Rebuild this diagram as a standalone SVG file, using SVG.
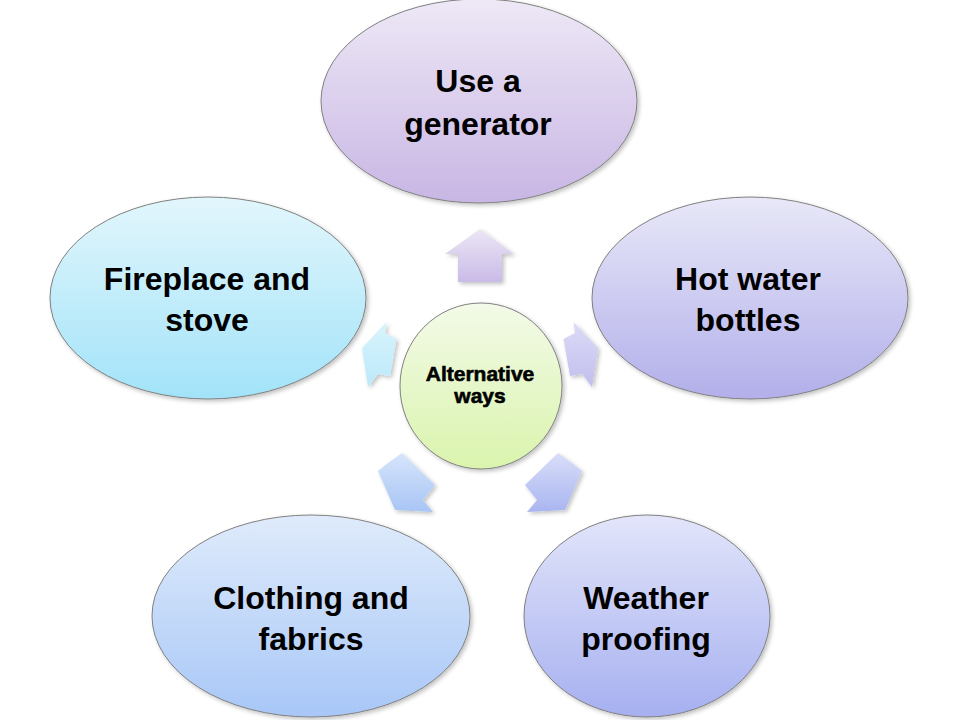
<svg xmlns="http://www.w3.org/2000/svg" width="960" height="720" viewBox="0 0 960 720">
<defs>
<linearGradient id="gTop" x1="0" y1="0" x2="0" y2="1"><stop offset="0" stop-color="#eee8f6"/><stop offset="1" stop-color="#c8b6e4"/></linearGradient>
<linearGradient id="gHot" x1="0" y1="0" x2="0" y2="1"><stop offset="0" stop-color="#e8e8f8"/><stop offset="1" stop-color="#b2afea"/></linearGradient>
<linearGradient id="gWea" x1="0" y1="0" x2="0" y2="1"><stop offset="0" stop-color="#e2e5fa"/><stop offset="1" stop-color="#a6b0f0"/></linearGradient>
<linearGradient id="gClo" x1="0" y1="0" x2="0" y2="1"><stop offset="0" stop-color="#dfebfb"/><stop offset="1" stop-color="#a8c7f7"/></linearGradient>
<linearGradient id="gFir" x1="0" y1="0" x2="0" y2="1"><stop offset="0" stop-color="#e2f6fc"/><stop offset="1" stop-color="#a2e3f9"/></linearGradient>
<linearGradient id="gCen" x1="0" y1="0" x2="0" y2="1"><stop offset="0" stop-color="#f3fae8"/><stop offset="1" stop-color="#daf4ad"/></linearGradient>
<linearGradient id="aUp" x1="0" y1="0" x2="0" y2="1"><stop offset="0" stop-color="#ece6f6"/><stop offset="1" stop-color="#cabbe7"/></linearGradient>
<linearGradient id="aL" x1="0" y1="0" x2="0" y2="1"><stop offset="0" stop-color="#d8f4fc"/><stop offset="1" stop-color="#bce9fa"/></linearGradient>
<linearGradient id="aR" x1="0" y1="0" x2="0" y2="1"><stop offset="0" stop-color="#dcdbf6"/><stop offset="1" stop-color="#c1beee"/></linearGradient>
<linearGradient id="aBL" x1="0" y1="0" x2="0" y2="1"><stop offset="0" stop-color="#d6e5fb"/><stop offset="1" stop-color="#a8c5f5"/></linearGradient>
<linearGradient id="aBR" x1="0" y1="0" x2="0" y2="1"><stop offset="0" stop-color="#d8def9"/><stop offset="1" stop-color="#a9b5f0"/></linearGradient>
<filter id="sh" x="-10%" y="-10%" width="125%" height="125%">
<feGaussianBlur in="SourceAlpha" stdDeviation="2"/>
<feOffset dx="2" dy="2" result="b"/>
<feComponentTransfer><feFuncA type="linear" slope="0.25"/></feComponentTransfer>
<feMerge><feMergeNode/><feMergeNode in="SourceGraphic"/></feMerge>
</filter>
</defs>
<style>
.node{stroke:#808080;stroke-width:1;filter:url(#sh)}
.arr{filter:url(#sh)}
.t{font-family:"Liberation Sans",Arial,sans-serif;font-weight:bold;font-size:32px;fill:#000;text-anchor:middle}
.c{font-family:"Liberation Sans",Arial,sans-serif;font-weight:bold;font-size:21px;fill:#000;text-anchor:middle;stroke:#000;stroke-width:0.6}
</style>
<rect width="960" height="720" fill="#ffffff"/>
<g id="connectors">
<polygon class="arr" fill="url(#aUp)" points="480,229 514,254 502,254 502,282 458,282 458,254 445,254"/>
<polygon class="arr" fill="url(#aL)" points="386.5,322 385,333 396.5,339 390,376 378,374 368,387 362,348"/>
<polygon class="arr" fill="url(#aR)" points="573.5,322 575,333 563.5,339 570,376 582,374 592,387 598,348"/>
<polygon class="arr" fill="url(#aBL)" points="395,510 378,471 388,463 402,453 435,485 423,500 433,512"/>
<polygon class="arr" fill="url(#aBR)" points="565,510 582,471 572,463 558,453 525,485 537,500 527,512"/>
</g>
<g id="node-top">
<ellipse class="node" cx="479" cy="101" rx="158" ry="102" fill="url(#gTop)"/>
<text class="t" x="478" y="92">Use a</text>
<text class="t" x="478" y="135">generator</text>
</g>
<g id="node-hot">
<ellipse class="node" cx="750" cy="298" rx="158" ry="101" fill="url(#gHot)"/>
<text class="t" x="748" y="290">Hot water</text>
<text class="t" x="748" y="331">bottles</text>
</g>
<g id="node-weather">
<ellipse class="node" cx="647" cy="616" rx="123" ry="101" fill="url(#gWea)"/>
<text class="t" x="646" y="609">Weather</text>
<text class="t" x="646" y="650">proofing</text>
</g>
<g id="node-clothing">
<ellipse class="node" cx="311" cy="616" rx="159" ry="101" fill="url(#gClo)"/>
<text class="t" x="311" y="609">Clothing and</text>
<text class="t" x="311" y="650">fabrics</text>
</g>
<g id="node-fireplace">
<ellipse class="node" cx="208" cy="298" rx="158" ry="101" fill="url(#gFir)"/>
<text class="t" x="207" y="290">Fireplace and</text>
<text class="t" x="207" y="331">stove</text>
</g>
<g id="node-center">
<ellipse class="node" cx="481" cy="386" rx="81" ry="83" fill="url(#gCen)"/>
<text class="c" x="480" y="381">Alternative</text>
<text class="c" x="480" y="403">ways</text>
</g>
</svg>
